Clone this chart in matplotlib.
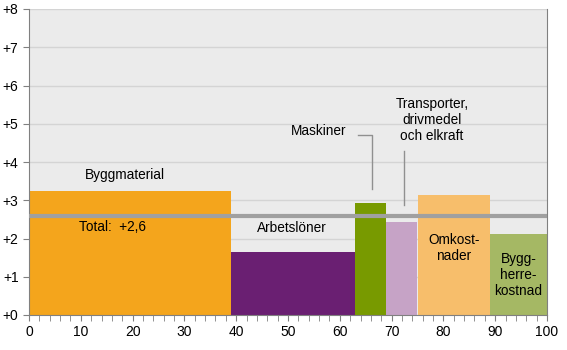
import numpy as np
import matplotlib.pyplot as plt
from matplotlib.ticker import MultipleLocator, FuncFormatter

# data: category share (width, %) and price change (height)
labels = ['Byggmaterial', 'Arbetslöner', 'Maskiner',
          'Transporter,\ndrivmedel\noch elkraft', 'Omkost-\nnader', 'Bygg-\nherre-\nkostnad']
widths = [39, 24, 6, 6, 14, 11]
values = [3.24, 1.65, 2.93, 2.43, 3.14, 2.12]
colors = ['#F4A51C', '#6A1F72', '#789A00', '#C6A3C6', '#F7BE6B', '#A5B864']
total = 2.6

plt.rcParams['font.family'] = ['Liberation Sans', 'DejaVu Sans']
fig = plt.figure(figsize=(5.67, 3.5), dpi=100)
ax = fig.add_axes([29 / 567, 1 - 315 / 350, 518 / 567, 306 / 350])
ax.set_facecolor('#EBEBEB')

lefts = np.concatenate([[0], np.cumsum(widths)[:-1]])
ax.bar(lefts, values, width=widths, align='edge', color=colors, zorder=2)
ax.axhline(total, color='#A0A0A0', lw=3, zorder=3)

ax.set_xlim(0, 100)
ax.set_ylim(0, 8)
ax.yaxis.set_major_locator(MultipleLocator(1))
ax.yaxis.set_major_formatter(FuncFormatter(lambda v, p: '+%d' % round(v)))
ax.xaxis.set_major_locator(MultipleLocator(10))
ax.xaxis.set_minor_locator(MultipleLocator(2))
ax.grid(axis='y', color='#D4D4D4', lw=1, zorder=1)
ax.tick_params(axis='both', labelsize=10, color='#808080', direction='out', length=4)
ax.tick_params(axis='x', which='minor', color='#808080', length=4)
for s in ['left', 'right', 'bottom']:
    ax.spines[s].set_color('#808080')
ax.spines['top'].set_visible(False)

fs = 9.8
ls = 1.2
ax.text(18.5, 3.65, labels[0], ha='center', va='center', fontsize=fs)
ax.text(9.7, 2.3, 'Total:  +2,6', ha='left', va='center', fontsize=fs)
ax.text(50.8, 2.27, labels[1], ha='center', va='center', fontsize=fs)
ax.text(56, 4.82, labels[2], ha='center', va='center', fontsize=fs)
ax.plot([63.5, 66.3, 66.3], [4.7, 4.7, 3.3], color='#909090', lw=1, zorder=4)
ax.text(77.8, 5.1, labels[3], ha='center', va='center', fontsize=fs, linespacing=ls)
ax.plot([72.3, 72.3], [4.3, 2.88], color='#909090', lw=1, zorder=4)
ax.text(82, 1.76, labels[4], ha='center', va='center', fontsize=fs, linespacing=ls)
ax.text(94.5, 1.04, labels[5], ha='center', va='center', fontsize=fs, linespacing=ls)

fig.savefig('out.png', dpi=100)
